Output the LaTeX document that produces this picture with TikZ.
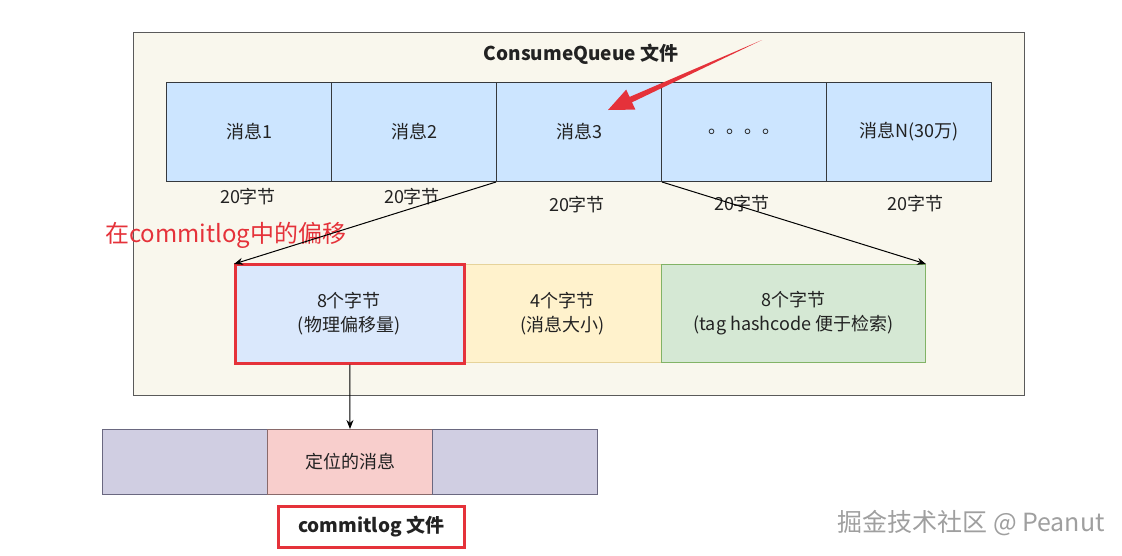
\documentclass[tikz,border=0pt]{standalone}
\usepackage{fontspec}
\setmainfont{Noto Sans CJK SC}
\usetikzlibrary{arrows.meta}
\definecolor{outerfill}{HTML}{F9F7ED}
\definecolor{outerline}{HTML}{5A5A5A}
\definecolor{qfill}{HTML}{CCE5FF}
\definecolor{qline}{HTML}{36393D}
\definecolor{bfill}{HTML}{DAE8FC}
\definecolor{yfill}{HTML}{FFF2CC}
\definecolor{yline}{HTML}{D6B656}
\definecolor{gfill}{HTML}{D5E8D4}
\definecolor{gline}{HTML}{82B366}
\definecolor{pfill}{HTML}{D0CEE2}
\definecolor{pline}{HTML}{6A6880}
\definecolor{kfill}{HTML}{F8CECC}
\definecolor{kline}{HTML}{8A6A6A}
\definecolor{hred}{HTML}{E5323A}
\definecolor{txt}{HTML}{222222}
\tikzset{
  box/.style={draw, anchor=north west, inner sep=0pt, text=txt, font=\fontsize{18}{24}\selectfont, align=center, line width=1pt},
  qcell/.style={box, fill=qfill, draw=qline, minimum width=165pt, minimum height=99pt},
  sz/.style={text=txt, font=\fontsize{18}{20}\selectfont, inner sep=0pt},
  hl/.style={draw=hred, line width=2.5pt, anchor=north west, inner sep=0pt},
  conn/.style={draw=black, line width=1pt, -{Stealth[length=9pt,width=7pt]}}
}
\begin{document}
\begin{tikzpicture}[x=1pt,y=-1pt]
\useasboundingbox (0,0) rectangle (1122,555);
% outer container
\node[box, fill=outerfill, draw=outerline, minimum width=891pt, minimum height=363pt] (outer) at (133,32) {};
\node[text=txt, font=\fontsize{19}{22}\selectfont\bfseries, inner sep=0pt] (title) at (581,54) {ConsumeQueue 文件};
% top row
\node[qcell] (m1) at (166,82) {消息1};
\node[qcell] (m2) at (331,82) {消息2};
\node[qcell] (m3) at (496,82) {消息3};
\node[qcell] (m4) at (661,82) {。。。。};
\node[qcell] (m5) at (826,82) {消息N(30万)};
% size labels
\node[sz] (s1) at (248,197) {20字节};
\node[sz] (s2) at (412,197) {20字节};
\node[sz] (s3) at (577,205) {20字节};
\node[sz] (s4) at (742,204) {20字节};
\node[sz] (s5) at (915,204) {20字节};
% red annotation text
\node[text=hred, font=\fontsize{24}{27}\selectfont, inner sep=0pt, anchor=west] (note) at (105,235) {在commitlog中的偏移};
% middle row
\node[box, fill=bfill, draw=bfill, minimum width=229pt, minimum height=98pt] (f1) at (234,264) {8个字节\\(物理偏移量)};
\node[box, fill=yfill, draw=yline!60, minimum width=198pt, minimum height=98pt] (f2) at (463,264) {4个字节\\(消息大小)};
\node[box, fill=gfill, draw=gline, minimum width=264pt, minimum height=98pt] (f3) at (661,264) {8个字节\\(tag hashcode 便于检索)};
\node[hl, minimum width=229pt, minimum height=99pt] (f1hl) at (234,263) {};
% connectors
\draw[conn] (m3.south west) -- (f1.north west);
\draw[conn] (m3.south east) -- (f3.north east);
% bottom row (commitlog)
\node[box, fill=pfill, draw=pline, minimum width=165pt, minimum height=65pt] (c1) at (102,429) {};
\node[box, fill=kfill, draw=kline, minimum width=165pt, minimum height=65pt] (c2) at (267,429) {定位的消息};
\node[box, fill=pfill, draw=pline, minimum width=165pt, minimum height=65pt] (c3) at (432,429) {};
\draw[conn] (f1hl.south) -- (c2.north);
% commitlog label
\node[hl, minimum width=186pt, minimum height=41pt, text=txt, font=\fontsize{19}{22}\selectfont\bfseries] (clog) at (277,505) {commitlog 文件};
% red pointer arrow
\coordinate (tail) at (762,40);
\coordinate (tip) at (608,110);
\fill[hred] (tail) -- (632,102.3) -- (635.4,109.6) -- (tip) -- (626.2,89.6) -- (629.6,96.9) -- cycle;
% watermark
\node[text=gray!75, font=\fontsize{25}{28}\selectfont, inner sep=0pt, anchor=east] (wm) at (1105,523) {掘金技术社区 @ Peanut};
\end{tikzpicture}
\end{document}
